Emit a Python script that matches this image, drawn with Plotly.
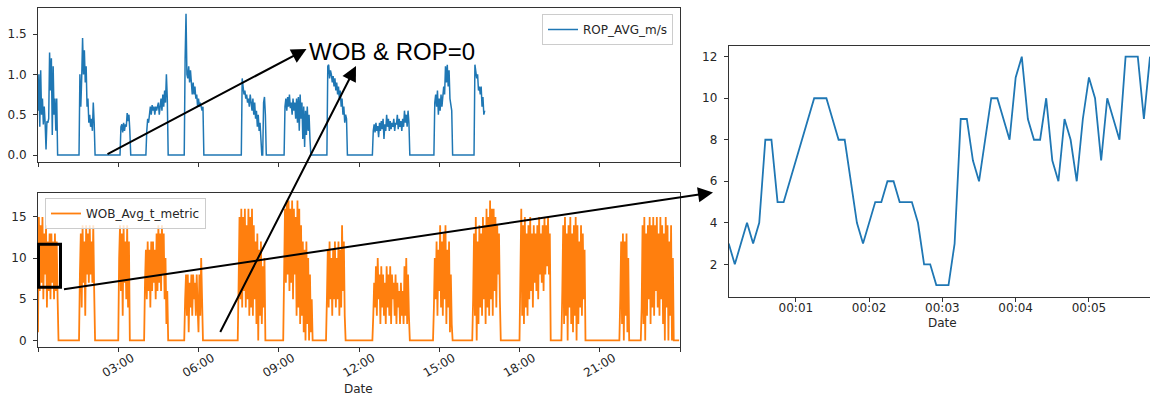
import pandas as pd
import plotly.graph_objects as go

W, H = 1150, 399

# ---------------- data ----------------
# ROP_AVG_m/s, sampled every 2 minutes from 00:00 (one row = one hour)
ROP_AVG = [
    0.55, 1.0, 0.35, 1.05, 0.5, 0.7, 0.38, 0.6, 0.4, 0.07, 0.42, 0.4, 0.45, 1.27, 0.8, 1.2, 0.25, 1.1, 0.5, 0.7, 0.3, 0.7, 0, 0, 0, 0, 0, 0, 0, 0,
    0, 0, 0, 0, 0, 0, 0, 0, 0, 0, 0, 0, 0, 0, 0, 0, 0, 1.0, 0.6, 0.95, 1.45, 1.0, 1.3, 0.9, 1.1, 0.6, 0.7, 0.4, 0.5, 0.35,
    0.45, 0.3, 0.65, 0.4, 0, 0, 0, 0, 0, 0, 0, 0, 0, 0, 0, 0, 0, 0, 0, 0, 0, 0, 0, 0, 0, 0, 0, 0, 0, 0,
    0, 0, 0, 0.35, 0.38, 0.28, 0.4, 0.3, 0.38, 0.35, 0.52, 0.42, 0.5, 0.3, 0, 0, 0, 0, 0, 0, 0, 0, 0, 0, 0, 0, 0, 0, 0, 0,
    0, 0, 0.3, 0.45, 0.4, 0.55, 0.6, 0.5, 0.62, 0.55, 0.6, 0.5, 0.6, 0.55, 0.62, 0.65, 0.5, 0.6, 0.7, 0.55, 0.75, 0.6, 0.8, 0.65, 1.0, 0.7, 0, 0, 0, 0,
    0, 0, 0, 0, 0, 0, 0, 0, 0, 0, 0, 0, 0, 0, 0, 1.2, 1.75, 1.0, 0.95, 1.1, 0.9, 1.05, 0.85, 0.75, 0.9, 0.75, 0.85, 0.7, 0.75, 0.6,
    0.7, 0.6, 0.65, 0.6, 0.55, 0.6, 0, 0, 0, 0, 0, 0, 0, 0, 0, 0, 0, 0, 0, 0, 0, 0, 0, 0, 0, 0, 0, 0, 0, 0,
    0, 0, 0, 0, 0, 0, 0, 0, 0, 0, 0, 0, 0, 0, 0, 0, 0, 0, 0, 0.95, 0.85, 0.75, 0.8, 0.7, 0.75, 0.65, 0.7, 0.6, 0.75, 0.65,
    0.55, 0.7, 0.5, 0.65, 0.45, 0.55, 0.35, 0.5, 0.3, 0.4, 0.2, 0, 0, 0.65, 0.72, 0.5, 0, 0, 0, 0, 0, 0, 0, 0, 0, 0, 0, 0, 0, 0,
    0, 0, 0, 0, 0, 0, 0, 0.6, 0.7, 0.55, 0.72, 0.6, 0.75, 0.58, 0.65, 0.5, 0.7, 0.55, 0.65, 0.45, 0.7, 0.4, 0.72, 0.3, 0.75, 0.45, 0.65, 0.2, 0.6, 0.1,
    0.55, 0.25, 0.6, 0.3, 0.5, 0.2, 0, 0, 0, 0, 0, 0, 0, 0, 0, 0, 0, 0, 0, 0, 0, 0, 0, 0, 0, 1.1, 1.12, 0.95, 1.05, 1.0,
    0.9, 0.98, 0.85, 0.95, 0.8, 0.9, 0.75, 0.85, 0.7, 0.8, 0.6, 0.7, 0.5, 0.6, 0.4, 0.5, 0.45, 0, 0, 0, 0, 0, 0, 0, 0, 0, 0, 0, 0, 0,
    0, 0, 0, 0, 0, 0, 0, 0, 0, 0, 0, 0, 0, 0, 0, 0, 0.3, 0.38, 0.28, 0.4, 0.3, 0.36, 0.22, 0.4, 0.3, 0.42, 0.32, 0.45, 0.2, 0.38,
    0.3, 0.5, 0.35, 0.45, 0.3, 0.42, 0.32, 0.4, 0.35, 0.45, 0.3, 0.4, 0.38, 0.5, 0.32, 0.45, 0.35, 0.42, 0.3, 0.45, 0.35, 0.55, 0.4, 0.5, 0.35, 0.55, 0.4, 0, 0, 0,
    0, 0, 0, 0, 0, 0, 0, 0, 0, 0, 0, 0, 0, 0, 0, 0, 0, 0, 0, 0, 0, 0, 0, 0, 0, 0.65, 0.75, 0.6, 0.8, 0.5,
    0.7, 0.55, 0.75, 0.6, 0.7, 0.85, 0.75, 1.1, 0.9, 1.12, 0.85, 1.05, 0.7, 0.6, 0.55, 0, 0, 0, 0, 0, 0, 0, 0, 0, 0, 0, 0, 0, 0, 0,
    0, 0, 0, 0, 0, 0, 0, 0, 0, 0, 1.12, 1.05, 0.95, 1.0, 0.8, 0.85, 0.75, 0.85, 0.6, 0.72, 0.5, 0.55,
]

# WOB_Avg_t_metric, sampled every 2 minutes from 00:00 (one row = one hour)
WOB_AVG = [
    1, 15, 6, 14, 7, 15, 5, 13, 8, 14, 4, 12, 6, 13, 5, 13, 7, 12, 5, 13, 6, 12, 5, 0, 0, 0, 0, 0, 0, 0,
    0, 0, 0, 0, 0, 0, 0, 0, 0, 0, 0, 0, 0, 0, 0, 0, 0, 8, 13, 4, 14, 7, 12, 3, 14, 8, 13, 7, 14, 8,
    12, 7, 14, 6, 0, 0, 0, 0, 0, 0, 0, 0, 0, 0, 0, 0, 0, 0, 0, 0, 0, 0, 0, 0, 0, 0, 0, 0, 0, 0,
    0, 10, 14, 6, 13, 3, 14, 7, 12, 5, 14, 4, 12, 0, 0, 0, 0, 0, 0, 0, 0, 0, 0, 0, 0, 0, 0, 0, 0, 0,
    7, 11, 5, 12, 6, 11, 4, 12, 6, 12, 7, 11, 5, 13, 6, 14, 7, 13, 6, 14, 8, 13, 5, 10, 2, 6, 0, 0, 0, 0,
    0, 0, 0, 0, 0, 0, 0, 0, 0, 0, 0, 0, 0, 0, 0, 5, 8, 3, 8, 1, 7, 4, 8, 3, 8, 5, 7, 3, 8, 4,
    1, 8, 3, 10, 2, 0, 0, 0, 0, 0, 0, 0, 0, 0, 0, 0, 0, 0, 0, 0, 0, 0, 0, 0, 0, 0, 0, 0, 0, 0,
    0, 0, 0, 0, 0, 0, 0, 0, 0, 0, 0, 0, 0, 0, 0, 7, 15, 5, 16, 4, 15, 6, 16, 4, 14, 5, 16, 3, 15, 4,
    16, 3, 14, 5, 12, 2, 13, 0, 11, 3, 12, 2, 9, 4, 10, 0, 0, 0, 0, 0, 0, 0, 0, 0, 0, 0, 0, 0, 0, 0,
    0, 0, 0, 0, 0, 0, 8, 16, 7, 17, 8, 17, 6, 16, 7, 17, 5, 16, 8, 15, 3, 17, 4, 16, 2, 14, 3, 12, 1, 11,
    0, 12, 2, 10, 0, 8, 1, 5, 0, 0, 0, 0, 0, 0, 0, 0, 0, 0, 0, 0, 0, 0, 0, 0, 5, 11, 4, 12, 5, 10,
    3, 11, 5, 12, 4, 10, 5, 12, 3, 11, 4, 14, 6, 12, 3, 0, 0, 0, 0, 0, 0, 0, 0, 0, 0, 0, 0, 0, 0, 0,
    0, 0, 0, 0, 0, 0, 0, 0, 0, 0, 0, 0, 0, 0, 0, 0, 3, 7, 4, 9, 3, 10, 5, 8, 2, 9, 4, 8, 3, 7,
    2, 9, 4, 8, 3, 9, 2, 8, 5, 7, 3, 8, 2, 7, 4, 6, 2, 7, 3, 6, 2, 9, 3, 10, 2, 8, 3, 0, 0, 0,
    0, 0, 0, 0, 0, 0, 0, 0, 0, 0, 0, 0, 0, 0, 0, 0, 0, 0, 0, 0, 0, 0, 0, 0, 4, 10, 5, 12, 3, 11,
    6, 14, 4, 12, 3, 13, 5, 14, 2, 11, 4, 12, 1, 8, 2, 0, 0, 0, 0, 0, 0, 0, 0, 0, 0, 0, 0, 0, 0, 0,
    0, 0, 0, 0, 0, 0, 0, 0, 5, 13, 3, 15, 0, 12, 2, 14, 4, 13, 3, 15, 5, 14, 2, 16, 4, 15, 3, 17, 5, 16,
    3, 16, 6, 15, 4, 14, 8, 13, 5, 0, 0, 0, 0, 0, 0, 0, 0, 0, 0, 0, 0, 0, 0, 0, 0, 0, 0, 0, 0, 0,
    0, 8, 16, 3, 14, 2, 15, 4, 13, 3, 14, 5, 15, 6, 13, 4, 14, 7, 13, 6, 14, 5, 15, 8, 13, 7, 14, 6, 15, 8,
    14, 9, 15, 8, 13, 0, 0, 0, 0, 0, 0, 0, 0, 0, 0, 0, 0, 0, 6, 14, 2, 15, 3, 13, 0, 14, 4, 15, 2, 13,
    1, 14, 3, 15, 0, 14, 2, 12, 4, 14, 3, 13, 5, 11, 0, 0, 0, 0, 0, 0, 0, 0, 0, 0, 0, 0, 0, 0, 0, 0,
    0, 0, 0, 0, 0, 0, 0, 0, 0, 0, 0, 0, 0, 0, 0, 0, 0, 0, 0, 0, 0, 0, 0, 5, 12, 2, 13, 0, 12, 3,
    13, 1, 10, 0, 0, 0, 0, 0, 0, 0, 0, 0, 0, 0, 0, 0, 0, 4, 14, 2, 15, 0, 13, 3, 14, 5, 15, 2, 14, 4,
    15, 3, 14, 6, 15, 4, 13, 3, 15, 5, 14, 2, 13, 0, 15, 4, 14, 0, 12, 3, 14, 0, 10, 0, 0, 0, 0, 0, 0, 0,
]

# zoom of the first minutes (5-second samples starting 00:00:05)
ZOOM_WOB = [
    3, 2, 3, 4, 3, 4, 8, 8, 5, 5, 6, 7, 8, 9, 10, 10, 10, 9, 8, 8,
    6, 4, 3, 4, 5, 5, 6, 6, 5, 5, 5, 4, 2, 2, 1, 1, 1, 3, 9, 9,
    7, 6, 8, 10, 10, 9, 8, 11, 12, 9, 8, 8, 10, 7, 6, 9, 8, 6, 9, 11,
    10, 7, 10, 9, 8, 12, 12, 12, 9, 12,
]

DAY_TICKS = ["00:00", "03:00", "06:00", "09:00", "12:00", "15:00", "18:00", "21:00", "24:00"]
DAY_TICK_TEXT = ["", "03:00", "06:00", "09:00", "12:00", "15:00", "18:00", "21:00", ""]
ZOOM_TICKS = ["00:01", "00:02", "00:03", "00:04", "00:05"]
ROP_YTICKS = [0.0, 0.5, 1.0, 1.5]
WOB_YTICKS = [0, 5, 10, 15]
ZOOM_YTICKS = [2, 4, 6, 8, 10, 12]

DAY = "2019-01-01"
rop_time = pd.date_range(f"{DAY} 00:00:00", periods=len(ROP_AVG), freq="2min")
wob_time = pd.date_range(f"{DAY} 00:00:00", periods=len(WOB_AVG), freq="2min")
zoom_time = pd.date_range(f"{DAY} 00:00:05", periods=len(ZOOM_WOB), freq="5s")

day_tickvals = [pd.Timestamp(DAY) + pd.Timedelta(hours=int(t[:2])) for t in DAY_TICKS]
zoom_tickvals = [pd.Timestamp(DAY) + pd.Timedelta(minutes=int(t[3:])) for t in ZOOM_TICKS]

# ---------------- helpers (pixel -> paper) ----------------
def px(x):
    return x / W

def py(y):
    return 1 - y / H

BLUE = "#1f77b4"
ORANGE = "#ff7f0e"
AX = "#333333"
TXT = "#262626"
TICKFONT = dict(family="DejaVu Sans", size=12, color=TXT)

fig = go.Figure()
fig.add_trace(go.Scatter(x=rop_time, y=ROP_AVG, mode="lines", name="ROP_AVG_m/s",
                         line=dict(color=BLUE, width=1.5), xaxis="x", yaxis="y",
                         legend="legend"))
fig.add_trace(go.Scatter(x=wob_time, y=WOB_AVG, mode="lines", name="WOB_Avg_t_metric",
                         line=dict(color=ORANGE, width=1.8), xaxis="x2", yaxis="y2",
                         legend="legend2"))
fig.add_trace(go.Scatter(x=zoom_time, y=ZOOM_WOB, mode="lines", name="zoom",
                         line=dict(color=BLUE, width=1.8), xaxis="x3", yaxis="y3",
                         showlegend=False))

common = dict(showline=True, mirror=True, linecolor=AX, linewidth=1, ticks="outside",
              ticklen=4, tickwidth=1, tickcolor=AX, showgrid=False, zeroline=False,
              automargin=False, tickfont=TICKFONT)

day_range = [pd.Timestamp(DAY), pd.Timestamp(DAY) + pd.Timedelta(hours=24)]

fig.update_layout(
    width=W, height=H, margin=dict(l=0, r=0, t=0, b=0),
    paper_bgcolor="white", plot_bgcolor="white",
    xaxis=dict(domain=[px(38), px(680)], anchor="y", type="date", range=day_range,
               tickmode="array", tickvals=day_tickvals, showticklabels=False, **common),
    yaxis=dict(domain=[py(162.3), py(8.3)], anchor="x", range=[-0.09, 1.819],
               tickmode="array", tickvals=ROP_YTICKS, ticklabelstandoff=4,
               ticktext=[f"{v:.1f}" for v in ROP_YTICKS], **common),
    xaxis2=dict(domain=[px(38), px(680)], anchor="y2", type="date", range=day_range,
                tickmode="array", tickvals=day_tickvals, ticktext=DAY_TICK_TEXT,
                tickangle=-30, ticklabelshift=14, ticklabelstandoff=-5, **common),
    yaxis2=dict(domain=[py(346.7), py(193.3)], anchor="x2", range=[-0.76, 17.87],
                tickmode="array", tickvals=WOB_YTICKS, ticklabelstandoff=4, **common),
    xaxis3=dict(domain=[px(728.7), 1.0], anchor="y3", type="date",
                range=[zoom_time[0], zoom_time[-1]], ticklabelstandoff=-4,
                tickmode="array", tickvals=zoom_tickvals, ticktext=ZOOM_TICKS, **common),
    yaxis3=dict(domain=[py(296.7), py(45.7)], anchor="x3", range=[0.44, 12.53],
                tickmode="array", tickvals=ZOOM_YTICKS, ticklabelstandoff=4, **common),
    legend=dict(x=px(673), xanchor="right", y=py(14), yanchor="top",
                bgcolor="rgba(255,255,255,0.8)", bordercolor="#cccccc", borderwidth=1,
                font=dict(family="DejaVu Sans", size=12, color=TXT)),
    legend2=dict(x=px(45), xanchor="left", y=py(198), yanchor="top",
                 bgcolor="rgba(255,255,255,0.8)", bordercolor="#cccccc", borderwidth=1,
                 font=dict(family="DejaVu Sans", size=12, color=TXT)),
)

# axis titles
for (tx, ty) in [(358, 389), (942, 323)]:
    fig.add_annotation(text="Date", x=px(tx), y=py(ty), xref="paper", yref="paper",
                       xanchor="center", yanchor="middle", showarrow=False,
                       font=dict(family="DejaVu Sans", size=12, color=TXT))

# callout text
fig.add_annotation(text="WOB &amp; ROP=0", x=px(392.5), y=py(51), xref="paper", yref="paper",
                   xanchor="center", yanchor="middle", showarrow=False,
                   font=dict(family="Liberation Sans", size=24, color="black"))

# arrows (head at x,y ; tail offset in pixels)
ARROWS = [((306.5, 49.0), (106.0, 155.0)),
          ((356.0, 66.0), (219.5, 333.5)),
          ((713.0, 192.5), (62.5, 289.5))]
for (hx, hy), (tx, ty) in ARROWS:
    fig.add_annotation(x=px(hx), y=py(hy), xref="paper", yref="paper",
                       ax=tx - hx, ay=ty - hy, axref="pixel", ayref="pixel",
                       showarrow=True, arrowhead=2, arrowsize=1.5, arrowwidth=2,
                       arrowcolor="black", text="")

# highlight box on WOB panel
fig.add_shape(type="rect", xref="paper", yref="paper",
              x0=px(38.5), x1=px(60.5), y0=py(287.3), y1=py(244.3),
              line=dict(color="black", width=3))

fig.write_html("out.html", config={"displayModeBar": False},
               post_script="document.body.style.margin='0';document.body.style.overflow='hidden';")
